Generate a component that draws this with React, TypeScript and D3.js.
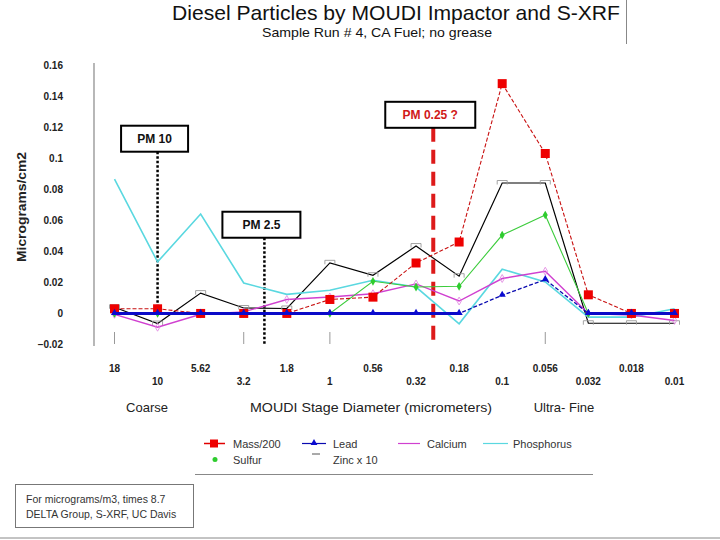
import React from "react";
import * as d3 from "d3";

const categories = ["18", "10", "5.62", "3.2", "1.8", "1", "0.56", "0.32", "0.18", "0.1", "0.056", "0.032", "0.018", "0.01"];
const massOver200 = [0.003, 0.003, 0, 0, 0, 0.009, 0.0105, 0.0325, 0.046, 0.148, 0.103, 0.012, 0, 0];
const lead = [0, 0, 0, 0, 0, 0, 0, 0, 0, 0.0117, 0.0218, 0, 0, 0];
const calcium = [-0.0006, -0.0089, -0.0005, 0.001, 0.009, 0.0106, 0.0127, 0.019, 0.008, 0.0225, 0.0272, 0, -0.001, -0.0045];
const phosphorus = [0.0865, 0.0332, 0.064, 0.0196, 0.0123, 0.0149, 0.0214, 0.017, -0.0067, 0.0285, 0.0203, -0.0024, -0.0024, 0.003];
const sulfur = [0, 0, 0, 0, 0, 0, 0.0207, 0.017, 0.0175, 0.0505, 0.0634, 0, 0, 0];
const zincX10 = [0.004, -0.0065, 0.0131, 0.0035, 0.0032, 0.0326, 0.0246, 0.0434, 0.024, 0.084, 0.084, -0.0063, -0.0063, -0.0063];

const yTicks = [-0.02, 0, 0.02, 0.04, 0.06, 0.08, 0.1, 0.12, 0.14, 0.16];
const tickMarkCategories = ["18", "3.2", "1", "0.056"];

const annotationLabels = ["PM 10", "PM 2.5", "PM 0.25 ?"];
const annotationIndex = [1, 3.48, 7.4];
const annotationBoxTop = [0.1209, 0.0655, 0.1363];
const annotationLineEnd = [0.0022, -0.0203, -0.0184];

const FONT = "'Liberation Sans', Arial, sans-serif";

export default function App() {
  const x = d3.scalePoint<string>().domain(categories).range([114.5, 674.5]);
  const y = d3.scaleLinear().domain([-0.02, 0.16]).range([344.5, 65]);
  const step = x.step();
  const xi = (i: number) => (x(categories[0]) as number) + i * step;

  const mk = (vals: number[]) => vals.map((v, i) => ({ c: categories[i], v }));
  const line = d3
    .line<{ c: string; v: number }>()
    .x((d) => x(d.c) as number)
    .y((d) => y(d.v));
  const zeroLine = d3
    .line<{ c: string; v: number }>()
    .defined((d) => d.v === 0)
    .x((d) => x(d.c) as number)
    .y((d) => y(d.v));

  const massD = mk(massOver200);
  const leadD = mk(lead);
  const caD = mk(calcium);
  const pD = mk(phosphorus);
  const sD = mk(sulfur);
  const znD = mk(zincX10);

  const boxW = [67, 78, 90];
  const boxH = 26;

  return (
    <svg
      width={720}
      height={540}
      style={{ position: "absolute", left: 0, top: 0, background: "#fff" }}
      fontFamily={FONT}
    >
      <rect x={0} y={0} width={720} height={540} fill="#fff" />
      {/* title */}
      <text x={396} y={20} textAnchor="middle" fontSize={21} textLength={448} lengthAdjust="spacingAndGlyphs" fill="#111">
        Diesel Particles by MOUDI Impactor and S-XRF
      </text>
      <text x={377} y={37} textAnchor="middle" fontSize={13.5} textLength={230} lengthAdjust="spacingAndGlyphs" fill="#111">
        Sample Run # 4, CA Fuel; no grease
      </text>
      <line x1={626.5} x2={626.5} y1={0} y2={44} stroke="#888" strokeWidth={1} />

      {/* y axis */}
      <line x1={94} x2={94} y1={63} y2={346} stroke="#888" strokeWidth={1.2} />
      {yTicks.map((t) => (
        <text key={t} x={63} y={y(t) + 3.5} textAnchor="end" fontSize={10} fontWeight="bold" fill="#222">
          {d3.format("")(+t.toFixed(2))}
        </text>
      ))}
      <text
        transform="translate(26,207) rotate(-90)"
        textAnchor="middle"
        fontSize={12.5}
        fontWeight="bold"
        textLength={110}
        lengthAdjust="spacingAndGlyphs"
        fill="#222"
      >
        Micrograms/cm2
      </text>

      {/* small tick marks below */}
      {tickMarkCategories.map((c) => (
        <line key={c} x1={x(c)} x2={x(c)} y1={332} y2={344} stroke="#999" strokeWidth={1} />
      ))}

      {/* x labels */}
      {categories.map((c, i) => (
        <text key={c} x={x(c)} y={i % 2 === 0 ? 372 : 385} textAnchor="middle" fontSize={10} fontWeight="bold" fill="#222">
          {c}
        </text>
      ))}
      <text x={147} y={412} textAnchor="middle" fontSize={13} fill="#222">Coarse</text>
      <text x={371} y={412} textAnchor="middle" fontSize={13} textLength={242} lengthAdjust="spacingAndGlyphs" fill="#222">
        MOUDI Stage  Diameter (micrometers)
      </text>
      <text x={564} y={412} textAnchor="middle" fontSize={13} fill="#222">Ultra- Fine</text>

      {/* annotations */}
      {annotationLabels.map((lab, i) => {
        const lx = xi(annotationIndex[i]);
        const top = y(annotationBoxTop[i]);
        const red = i === 2;
        return (
          <g key={lab}>
            <line
              x1={lx}
              x2={lx}
              y1={top + boxH}
              y2={y(annotationLineEnd[i])}
              stroke={red ? "#dd1a1a" : "#000"}
              strokeWidth={red ? 4 : 2.5}
              strokeDasharray={red ? "14,8" : "2.5,2"}
            />
            <rect
              x={lx - 3 - boxW[i] / 2}
              y={top}
              width={boxW[i]}
              height={boxH}
              fill="#fff"
              stroke="#000"
              strokeWidth={2}
            />
            <text x={lx - 3} y={top + 17} textAnchor="middle" fontSize={12} fontWeight="bold" fill={red ? "#d01818" : "#111"}>
              {lab}
            </text>
          </g>
        );
      })}

      {/* zinc */}
      <path d={line(znD) || ""} fill="none" stroke="#000" strokeWidth={1.2} />
      {znD.map((d) => {
        const cx = x(d.c) as number;
        const cy = y(d.v);
        return (
          <path
            key={d.c}
            d={`M${cx - 5},${cy + 1.5}V${cy - 2.5}H${cx + 5}V${cy + 1.5}`}
            fill="none"
            stroke="#999"
            strokeWidth={0.9}
          />
        );
      })}
      {/* phosphorus */}
      <path d={line(pD) || ""} fill="none" stroke="#5ad8e0" strokeWidth={1.6} />
      {/* calcium */}
      <path d={line(caD) || ""} fill="none" stroke="#d040d0" strokeWidth={1.4} />
      {caD.map((d) => (
        <path
          key={d.c}
          d={d3.symbol(d3.symbolDiamond, 18)() || ""}
          transform={`translate(${x(d.c)},${y(d.v)})`}
          fill="none"
          stroke="#e080e0"
          strokeWidth={0.8}
        />
      ))}
      {/* sulfur */}
      <path d={line(sD) || ""} fill="none" stroke="#3ccc3c" strokeWidth={1.1} />
      {sD.map((d) => (
        <path
          key={d.c}
          d={d3.symbol(d3.symbolDiamond, 22)() || ""}
          transform={`translate(${x(d.c)},${y(d.v)})`}
          fill="#2ecc2e"
        />
      ))}
      {/* mass/200 */}
      <path d={line(massD) || ""} fill="none" stroke="#c81010" strokeWidth={1.1} strokeDasharray="4,2" />
      {massD.map((d) => (
        <rect key={d.c} x={(x(d.c) as number) - 4.5} y={y(d.v) - 4.5} width={9} height={9} fill="#ee0000" />
      ))}
      {/* lead */}
      <path d={line(leadD) || ""} fill="none" stroke="#0a0ab0" strokeWidth={1.3} strokeDasharray="4,2" />
      <path d={zeroLine(leadD) || ""} fill="none" stroke="#0a0ac8" strokeWidth={3} />
      {leadD.map((d) => (
        <path
          key={d.c}
          d={d3.symbol(d3.symbolTriangle, 22)() || ""}
          transform={`translate(${x(d.c)},${y(d.v) - 0.5})`}
          fill="#0a0ad0"
        />
      ))}

      {/* legend */}
      <g fontSize={11} fill="#333">
        <line x1={204} x2={225} y1={443.5} y2={443.5} stroke="#e00000" strokeWidth={1.5} />
        <rect x={210} y={439.5} width={8} height={8} fill="#ee0000" />
        <text x={233} y={447.5}>Mass/200</text>

        <line x1={302} x2={326} y1={443.5} y2={443.5} stroke="#0a0ab0" strokeWidth={1.2} />
        <path d={d3.symbol(d3.symbolTriangle, 20)() || ""} transform="translate(314,443)" fill="#0a0ad0" />
        <text x={333} y={447.5}>Lead</text>

        <line x1={398} x2={420} y1={443.5} y2={443.5} stroke="#d040d0" strokeWidth={1.2} />
        <text x={427} y={447.5}>Calcium</text>

        <line x1={483} x2={508} y1={443.5} y2={443.5} stroke="#5ad8e0" strokeWidth={1.2} />
        <text x={513} y={447.5}>Phosphorus</text>

        <circle cx={215} cy={459.5} r={2.5} fill="#2ecc2e" />
        <text x={233} y={463.5}>Sulfur</text>

        <line x1={312} x2={320} y1={454} y2={454} stroke="#555" strokeWidth={1} />
        <text x={333} y={463.5}>Zinc x 10</text>
      </g>
      <line x1={195} x2={593} y1={474.5} y2={474.5} stroke="#888" strokeWidth={1} />

      {/* footnote */}
      <rect x={15.5} y={484.5} width={178} height={43} fill="#fff" stroke="#777" strokeWidth={1} />
      <text x={26} y={503} fontSize={10.5} fill="#333">For micrograms/m3, times 8.7</text>
      <text x={26} y={518} fontSize={10.5} fill="#333">DELTA Group, S-XRF, UC Davis</text>
      <line x1={0} x2={720} y1={538} y2={538} stroke="#888" strokeWidth={1} />
    </svg>
  );
}
